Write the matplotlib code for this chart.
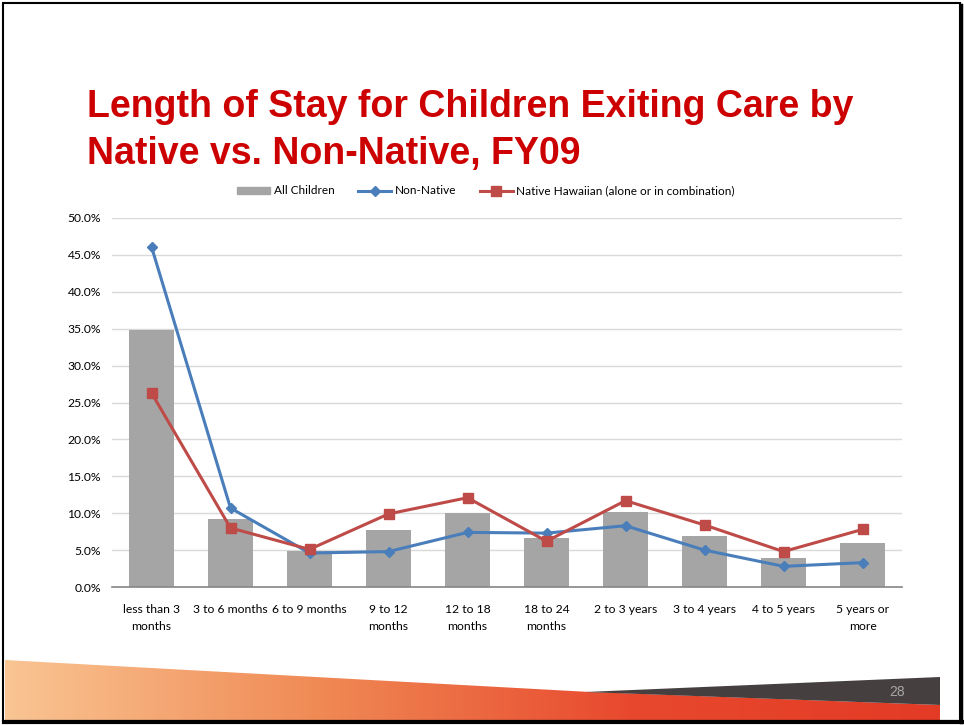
import matplotlib.pyplot as plt
import matplotlib.patches as patches
from matplotlib.lines import Line2D
from matplotlib.colors import LinearSegmentedColormap
import numpy as np

# dados
categories = ['less than 3\nmonths', '3 to 6 months', '6 to 9 months', '9 to 12\nmonths',
              '12 to 18\nmonths', '18 to 24\nmonths', '2 to 3 years', '3 to 4 years',
              '4 to 5 years', '5 years or\nmore']
all_children = [34.8, 9.2, 4.9, 7.7, 10.0, 6.7, 10.2, 6.9, 3.9, 5.9]
non_native = [46.1, 10.7, 4.6, 4.8, 7.4, 7.3, 8.3, 5.0, 2.8, 3.3]
native_hawaiian = [26.3, 8.0, 5.1, 9.9, 12.1, 6.2, 11.7, 8.4, 4.8, 7.8]
yticks = [0, 5, 10, 15, 20, 25, 30, 35, 40, 45, 50]

W, H = 964, 725
fig = plt.figure(figsize=(W / 100, H / 100), dpi=100)

# fundo do slide (decoração inferior)
bg = fig.add_axes([0, 0, 1, 1])
bg.set_xlim(0, W)
bg.set_ylim(H, 0)
bg.axis('off')

grad = np.linspace(0, 1, 256).reshape(1, -1)
cmap = LinearSegmentedColormap.from_list('lar', ['#F9C593', '#F08A55', '#E8492E', '#E33B26'])
img = bg.imshow(grad, cmap=cmap, extent=(5, 940, 721, 655), aspect='auto', zorder=1)
orange = patches.Polygon([(5, 660), (590, 692), (940, 705), (940, 721), (5, 721)],
                         closed=True, facecolor='none', edgecolor='none')
bg.add_patch(orange)
img.set_clip_path(orange)
dark = patches.Polygon([(585, 692), (940, 677), (940, 705)], closed=True,
                       facecolor='#45403F', edgecolor='none', zorder=2)
bg.add_patch(dark)
bg.text(897, 692, '28', color='#A6A6A6', fontsize=10, ha='center', va='center',
        family='Liberation Sans', zorder=3)

# borda do slide
bg.add_patch(patches.Rectangle((3, 3), 957, 718, facecolor='none', edgecolor='black',
                               linewidth=1.5, zorder=4))
bg.plot([4, 962], [722, 722], color='black', linewidth=3, zorder=4)
bg.plot([961, 961], [5, 722], color='black', linewidth=2.5, zorder=4)

# título
fig.text(87 / W, 1 - 89 / H, 'Length of Stay for Children Exiting Care by\nNative vs. Non-Native, FY09',
         color='#CC0000', fontsize=27, fontweight='bold', family='Liberation Sans',
         ha='left', va='top', linespacing=1.38)

# gráfico
ax = fig.add_axes([112 / W, 1 - 587 / H, (902 - 112) / W, (587 - 218) / H])
x = np.arange(len(categories))
ax.bar(x, all_children, width=0.58, color='#A5A5A5', zorder=2)
ax.plot(x, non_native, color='#4A7EBB', linewidth=2.2, marker='D', markersize=5.5, zorder=3)
ax.plot(x, native_hawaiian, color='#BE4B48', linewidth=2.2, marker='s', markersize=7, zorder=4)

ax.set_xlim(-0.5, len(categories) - 0.5)
ax.set_ylim(0, 50)
ax.set_yticks(yticks)
ax.set_yticklabels(['%.1f%%' % v for v in yticks], fontsize=8.7, family='Lato')
ax.set_xticks(x)
ax.set_xticklabels(categories, fontsize=8.7, family='Lato', linespacing=1.65)
ax.tick_params(length=0, pad=8)
ax.tick_params(axis='x', pad=12)
ax.grid(axis='y', color='#D9D9D9', linewidth=1, zorder=0)
for s in ['top', 'right', 'left']:
    ax.spines[s].set_visible(False)
ax.spines['bottom'].set_color('#868686')
ax.spines['bottom'].set_linewidth(1.2)
ax.spines['bottom'].set_zorder(5)

handles = [patches.Patch(color='#A5A5A5', label='All Children'),
           Line2D([], [], color='#4A7EBB', linewidth=2.2, marker='D', markersize=5, label='Non-Native'),
           Line2D([], [], color='#BE4B48', linewidth=2.2, marker='s', markersize=6.5,
                  label='Native Hawaiian (alone or in combination)')]
fig.legend(handles=handles, loc='center', bbox_to_anchor=(486 / W, 1 - 191 / H), ncol=3,
           frameon=False, prop={'family': 'Lato', 'size': 8.5}, handlelength=2.8,
           handleheight=0.6, columnspacing=2.0, handletextpad=0.3)

fig.savefig('out.png', dpi=100)
